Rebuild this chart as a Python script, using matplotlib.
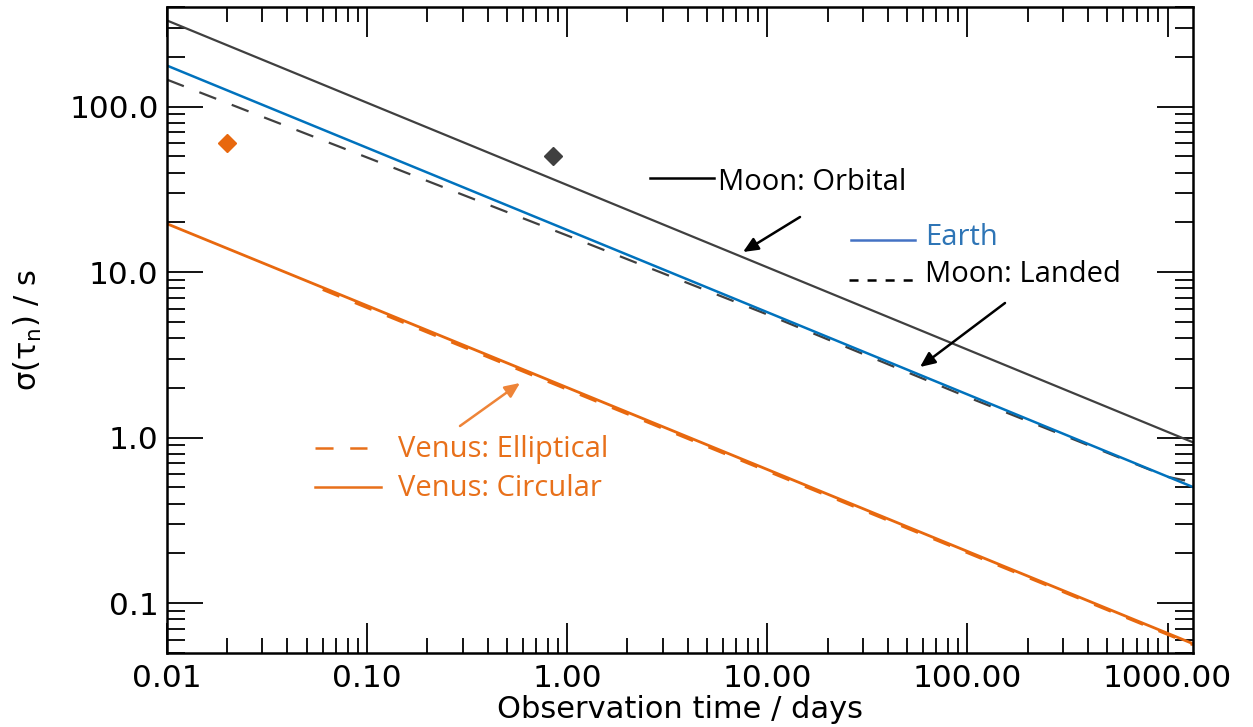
import matplotlib
matplotlib.use("Agg")
import matplotlib.pyplot as plt
import numpy as np

plt.rcParams['lines.scale_dashes'] = False
plt.rcParams['mathtext.fontset'] = 'dejavusans'

# ---- data ----
t_orbital = [0.01, 1340]
sig_orbital = [331.6, 0.937]

t_earth = [0.01, 1340]
sig_earth = [177.0, 0.503]

t_landed = [0.01, 0.1, 1.0, 10.0, 100.0, 1000.0, 1340]
sig_landed = [145.6, 49.3, 16.65, 5.55, 1.76, 0.58, 0.539]

t_venus_circ = [0.01, 1340]
sig_venus_circ = [19.6, 0.0569]

t_venus_ell = [0.06, 1340]
sig_venus_ell = [7.85, 0.0560]

pt_venus_t = [0.02]
pt_venus_sig = [60.0]
pt_moon_t = [0.85]
pt_moon_sig = [50.0]

xticks = [0.01, 0.1, 1, 10, 100, 1000]
xticklabels = ["0.01", "0.10", "1.00", "10.00", "100.00", "1000.00"]
yticks = [0.1, 1, 10, 100]
yticklabels = ["0.1", "1.0", "10.0", "100.0"]

c_gray = "#404040"
c_blue = "#0072BD"
c_orange = "#E8680E"
c_orange_txt = "#E8701A"
c_orange_arrow = "#EE8438"
c_blue_txt = "#2E75B6"
c_blue_leg = "#4472C4"

W, H = 1253, 727
fig = plt.figure(figsize=(12.53, 7.27), dpi=100)
ax = fig.add_axes([167/W, 1-653/H, (1193-167)/W, (653-7)/H])
ax.set_xscale('log')
ax.set_yscale('log')
ax.set_xlim(0.01, 1340)
ax.set_ylim(0.05, 400)

ax.plot(t_orbital, sig_orbital, color=c_gray, lw=1.6)
ax.plot(t_landed, sig_landed, color=c_gray, lw=1.6, dashes=[13, 12])
ax.plot(t_earth, sig_earth, color=c_blue, lw=1.8)
ax.plot(t_venus_circ, sig_venus_circ, color=c_orange, lw=2.0)
ax.plot(t_venus_ell, sig_venus_ell, color=c_orange, lw=2.0, dashes=[13, 12])
ax.plot(pt_venus_t, pt_venus_sig, 'D', color=c_orange, ms=9, mec=c_orange)
ax.plot(pt_moon_t, pt_moon_sig, 'D', color=c_gray, ms=9, mec=c_gray)

for s in ax.spines.values():
    s.set_linewidth(1.8)

ax.set_xticks(xticks)
ax.set_xticklabels(xticklabels)
ax.set_yticks(yticks)
ax.set_yticklabels(yticklabels)
ax.tick_params(axis='both', which='both', direction='in', top=True, right=True,
               labelsize=22.5, width=1.3)
ax.tick_params(axis='x', which='major', length=21.6, pad=8)
ax.tick_params(axis='x', which='minor', length=10.8)
ax.tick_params(axis='y', which='major', length=26, pad=6)
ax.tick_params(axis='y', which='minor', length=13)
ax.xaxis.set_minor_formatter(matplotlib.ticker.NullFormatter())
ax.yaxis.set_minor_formatter(matplotlib.ticker.NullFormatter())

ax.set_xlabel("Observation time / days", fontsize=22)
ax.xaxis.set_label_coords(0.5, (653 - 709) / (653 - 7), transform=ax.transAxes)
ax.xaxis.label.set_va('center')
ax.set_ylabel(r"$\mathrm{\sigma(\tau_n)}$ / s", fontsize=22)
ax.yaxis.set_label_coords((28 - 167) / (1193 - 167), 0.5, transform=ax.transAxes)
ax.yaxis.label.set_va('center')

def fx(x):
    return x / W
def fy(y):
    return 1 - y / H

tf = "Open Sans"
fs = 21

def legline(x0, x1, y, color, dashes=None, lw=1.8):
    ln = plt.Line2D([fx(x0), fx(x1)], [fy(y), fy(y)], transform=fig.transFigure,
                    color=color, lw=lw)
    if dashes:
        ln.set_dashes(dashes)
    fig.add_artist(ln)

legline(650, 714, 178, "black")
fig.text(fx(718), fy(182), "Moon: Orbital", family=tf, fontsize=fs, color="black", va='center')
legline(851, 915, 240, c_blue_leg)
fig.text(fx(925), fy(238), "Earth", family=tf, fontsize=fs, color=c_blue_txt, va='center')
legline(849, 913, 280, "black", dashes=[6.5, 6.5])
fig.text(fx(925), fy(275), "Moon: Landed", family=tf, fontsize=fs, color="black", va='center')
legline(315, 367, 448, c_orange_txt, dashes=[13, 12])
fig.text(fx(398), fy(450), "Venus: Elliptical", family=tf, fontsize=fs, color=c_orange_txt, va='center')
legline(315, 381, 487, c_orange_txt)
fig.text(fx(398), fy(489), "Venus: Circular", family=tf, fontsize=fs, color=c_orange_txt, va='center')

def arrow(x0, y0, x1, y1, color):
    fig.add_artist(matplotlib.patches.FancyArrowPatch(
        (fx(x0), fy(y0)), (fx(x1), fy(y1)), transform=fig.transFigure,
        arrowstyle='-|>,head_length=9,head_width=4', color=color, lw=1.8,
        shrinkA=0, shrinkB=0))

arrow(800, 217, 743, 252, "black")
arrow(1005, 303, 920, 367, "black")
arrow(460, 426, 520, 383, c_orange_arrow)

fig.savefig("out.png", dpi=100)
